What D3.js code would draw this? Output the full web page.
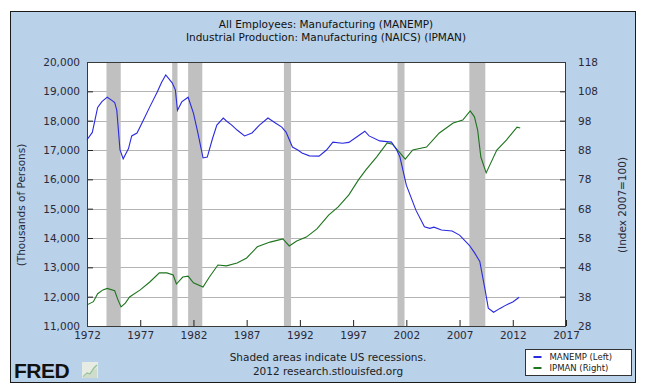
<!DOCTYPE html>
<html>
<head>
<meta charset="utf-8">
<script src="https://cdn.jsdelivr.net/npm/d3@7"></script>
<style>
  html, body { margin: 0; padding: 0; background: #fff; }
  svg { display: block; }
</style>
</head>
<body>
<script>
// ---- data ----
const titleLines = ["All Employees: Manufacturing (MANEMP)", "Industrial Production: Manufacturing (NAICS) (IPMAN)"];
const xTicks = [1972, 1977, 1982, 1987, 1992, 1997, 2002, 2007, 2012, 2017];
const leftTicks = [11000, 12000, 13000, 14000, 15000, 16000, 17000, 18000, 19000, 20000];
const rightTicks = [28, 38, 48, 58, 68, 78, 88, 98, 108, 118];
const recessionStarts = [1973.83, 1980.0, 1981.5, 1990.5, 2001.17, 2007.92];
const recessionEnds   = [1975.17, 1980.5, 1982.83, 1991.17, 2001.83, 2009.42];

const manempYears = [1972.0, 1972.5, 1973.0, 1973.4, 1973.9, 1974.3, 1974.6, 1974.8, 1975.1, 1975.4,
  1975.9, 1976.2, 1976.7, 1977.2, 1977.9, 1978.6, 1979.0, 1979.4, 1980.0, 1980.3,
  1980.5, 1980.9, 1981.5, 1982.0, 1982.4, 1982.9, 1983.3, 1983.8, 1984.2, 1984.8,
  1985.1, 1985.6, 1986.1, 1986.8, 1987.5, 1988.2, 1989.0, 1989.7, 1990.3, 1990.7,
  1991.3, 1991.8, 1992.2, 1992.9, 1993.8, 1994.5, 1995.1, 1996.0, 1996.6, 1997.6,
  1998.1, 1998.5, 1999.5, 2000.6, 2001.1, 2001.4, 2002.0, 2002.9, 2003.7, 2004.2,
  2004.6, 2005.3, 2006.3, 2007.0, 2007.9, 2008.4, 2008.9, 2009.4, 2009.7, 2010.2,
  2010.8, 2011.4, 2012.0, 2012.6];
const manempValues = [17350, 17600, 18450, 18650, 18800, 18700, 18620, 18350, 17000, 16700,
  17050, 17480, 17580, 17950, 18470, 18980, 19300, 19560, 19290, 19050,
  18350, 18640, 18800, 18260, 17610, 16730, 16760, 17400, 17850, 18090,
  17990, 17850, 17680, 17480, 17580, 17850, 18090, 17920, 17780, 17610,
  17100, 17000, 16900, 16800, 16790, 17000, 17270, 17230, 17260, 17510,
  17640, 17480, 17310, 17270, 17000, 16760, 15800, 14950, 14380, 14330,
  14370, 14270, 14240, 14100, 13760, 13500, 13200, 12230, 11610, 11470,
  11600, 11720, 11820, 11980];

const ipmanYears = [1972.0, 1972.6, 1973.0, 1973.5, 1973.9, 1974.6, 1974.9, 1975.2, 1975.6, 1976.0,
  1977.0, 1977.9, 1978.8, 1979.5, 1980.1, 1980.4, 1981.0, 1981.5, 1982.0, 1982.9,
  1983.5, 1984.3, 1985.1, 1986.1, 1987.0, 1988.0, 1989.2, 1990.4, 1991.0, 1991.7,
  1992.6, 1993.6, 1994.7, 1995.6, 1996.6, 1997.5, 1998.2, 1999.2, 2000.2, 2000.7,
  2001.4, 2001.9, 2002.6, 2003.9, 2005.1, 2006.4, 2007.3, 2008.0, 2008.4, 2008.7,
  2009.0, 2009.5, 2010.5, 2011.4, 2012.4, 2012.7];
const ipmanValues = [35.2, 36.3, 39.0, 40.3, 40.8, 40.0, 37.0, 34.5, 35.8, 37.9,
  40.3, 43.0, 46.1, 46.1, 45.4, 42.3, 44.7, 45.0, 42.7, 41.3,
  44.7, 48.8, 48.5, 49.5, 51.2, 55.0, 56.6, 57.7, 55.3, 57.0,
  58.3, 61.1, 65.8, 68.6, 72.7, 77.8, 81.2, 85.6, 90.4, 90.0,
  87.0, 84.9, 88.0, 89.0, 93.8, 97.2, 98.2, 101.3, 99.3, 94.8,
  85.6, 80.2, 88.0, 91.4, 95.8, 95.5];

const seriesNames = ["MANEMP (Left)", "IPMAN (Right)"];
const seriesColors = ["#2a2ae0", "#1d741d"];

// ---- layout ----
const W = 646, H = 392;
const plot = {left: 87, right: 566, top: 62, bottom: 326};
const font = "'DejaVu Sans', Verdana, sans-serif";

const svg = d3.select("body").append("svg").attr("width", W).attr("height", H);

// outer panel
svg.append("rect").attr("x", 10.5).attr("y", 11.5).attr("width", 625).attr("height", 371)
  .attr("fill", "#b9d1e9").attr("stroke", "#1a1a1a").attr("stroke-width", 1);

const x = d3.scaleLinear().domain([1972, 2017]).range([plot.left, plot.right]);
const yL = d3.scaleLinear().domain([11000, 20000]).range([plot.bottom, plot.top]);
const yR = d3.scaleLinear().domain([28, 118]).range([plot.bottom, plot.top]);

// plot background
svg.append("rect").attr("x", plot.left).attr("y", plot.top)
  .attr("width", plot.right - plot.left).attr("height", plot.bottom - plot.top).attr("fill", "#fff");

// gridlines
svg.append("g").selectAll("line").data(leftTicks).join("line")
  .attr("x1", plot.left).attr("x2", plot.right)
  .attr("y1", d => Math.round(yL(d)) + 0.5).attr("y2", d => Math.round(yL(d)) + 0.5)
  .attr("stroke", "#b4b4b4").attr("stroke-width", 1);

// recessions
svg.append("g").selectAll("rect").data(recessionStarts).join("rect")
  .attr("x", d => x(d))
  .attr("width", (d, i) => x(recessionEnds[i]) - x(d))
  .attr("y", plot.top).attr("height", plot.bottom - plot.top)
  .attr("fill", "#c0c0c0");

// lines
const mData = manempYears.map((yr, i) => [yr, manempValues[i]]);
const iData = ipmanYears.map((yr, i) => [yr, ipmanValues[i]]);
svg.append("path").datum(iData)
  .attr("d", d3.line().x(d => x(d[0])).y(d => yR(d[1])))
  .attr("fill", "none").attr("stroke", seriesColors[1]).attr("stroke-width", 1.1);
svg.append("path").datum(mData)
  .attr("d", d3.line().x(d => x(d[0])).y(d => yL(d[1])))
  .attr("fill", "none").attr("stroke", seriesColors[0]).attr("stroke-width", 1.1);

// axes (ticks pointing inward)
const axL = d3.axisLeft(yL).tickValues(leftTicks).tickSizeInner(-6).tickSizeOuter(0)
  .tickPadding(7).tickFormat(d3.format(","));
const axR = d3.axisRight(yR).tickValues(rightTicks).tickSizeInner(-6).tickSizeOuter(0)
  .tickPadding(12).tickFormat(d3.format("d"));
const axB = d3.axisBottom(x).tickValues(xTicks).tickSizeInner(-6).tickSizeOuter(0)
  .tickPadding(6).tickFormat(d3.format("d"));

function styleAxis(g) {
  g.selectAll("path.domain").remove();
  g.selectAll("line").attr("stroke", "#222");
  g.selectAll("text").attr("font-family", font).attr("font-size", "10.5px").attr("fill", "#2a2a3a");
}
svg.append("g").attr("transform", `translate(${plot.left},0)`).call(axL).call(styleAxis);
svg.append("g").attr("transform", `translate(${plot.right},0)`).call(axR).call(styleAxis);
svg.append("g").attr("transform", `translate(0,${plot.bottom})`).call(axB).call(styleAxis);

// plot frame
svg.append("rect").attr("x", plot.left + 0.5).attr("y", plot.top + 0.5)
  .attr("width", plot.right - plot.left - 1).attr("height", plot.bottom - plot.top)
  .attr("fill", "none").attr("stroke", "#3a3a3a").attr("stroke-width", 1);

// titles
svg.append("g").selectAll("text").data(titleLines).join("text")
  .attr("x", 326).attr("y", (d, i) => 28 + i * 13)
  .attr("text-anchor", "middle").attr("font-family", font).attr("font-size", "10.5px")
  .attr("fill", "#111").text(d => d);

// axis titles
svg.append("text").attr("transform", "translate(25,205) rotate(-90)")
  .attr("text-anchor", "middle").attr("font-family", font).attr("font-size", "10.5px")
  .attr("fill", "#2a2a3a").text("(Thousands of Persons)");
svg.append("text").attr("transform", "translate(626,205) rotate(-90)")
  .attr("text-anchor", "middle").attr("font-family", font).attr("font-size", "10.5px")
  .attr("fill", "#2a2a3a").text("(Index 2007=100)");

// footer
svg.append("text").attr("x", 328).attr("y", 361).attr("text-anchor", "middle")
  .attr("font-family", font).attr("font-size", "10.5px").attr("fill", "#222")
  .text("Shaded areas indicate US recessions.");
svg.append("text").attr("x", 328).attr("y", 375).attr("text-anchor", "middle")
  .attr("font-family", font).attr("font-size", "10.5px").attr("fill", "#222")
  .text("2012 research.stlouisfed.org");

// FRED logo
svg.append("text").attr("x", 14).attr("y", 378)
  .attr("font-family", "'Liberation Sans', Arial, sans-serif").attr("font-weight", "bold")
  .attr("font-size", "21px").attr("fill", "#111").attr("letter-spacing", "-0.5").text("FRED");
const icon = svg.append("g").attr("transform", "translate(82,362)");
icon.append("rect").attr("width", 16).attr("height", 16).attr("fill", "#e6ece4");
icon.append("path").attr("d", "M1,15 L5,11 L8,12 L12,6 L15,3").attr("fill", "none")
  .attr("stroke", "#9cc49a").attr("stroke-width", 1.5);
icon.append("path").attr("d", "M1,15 L5,12 L8,13 L12,8 L15,6 L15,16 L1,16Z").attr("fill", "#cfdccc");

// legend
const lg = svg.append("g").attr("transform", "translate(525.5,349.5)");
lg.append("rect").attr("width", 106).attr("height", 26).attr("fill", "#fff").attr("stroke", "#333");
seriesNames.forEach((name, i) => {
  lg.append("line").attr("x1", 8).attr("x2", 16).attr("y1", 7.5 + i * 11).attr("y2", 7.5 + i * 11)
    .attr("stroke", seriesColors[i]).attr("stroke-width", 2);
  lg.append("text").attr("x", 24).attr("y", 10.5 + i * 11)
    .attr("font-family", font).attr("font-size", "8.5px").attr("fill", "#222").text(name);
});
</script>
</body>
</html>
